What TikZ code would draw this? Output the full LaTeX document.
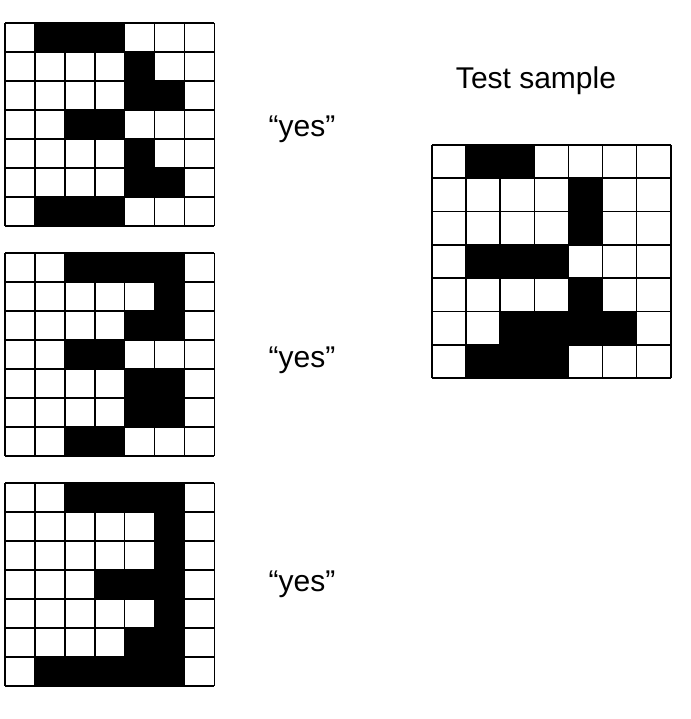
\documentclass[tikz,border=0pt]{standalone}
\usepackage{fontspec}
\setmainfont{Liberation Sans}
\tikzset{
  gridline/.style={draw=black, line width=1.6pt},
  cellfill/.style={fill=black},
  label/.style={font=\fontsize{30}{36}\selectfont, anchor=base, inner sep=0pt},
}
\newcommand\pixgrid[5]{%
  \foreach \row [count=\r from 0] in {#5}{%
    \foreach \v [count=\c from 0] in \row {%
      \ifnum\v=1 \fill[cellfill] ({#1+\c*#3},{#2+\r*#4}) rectangle ++(#3,#4);\fi
    }}%
  \foreach \k in {0,...,7}{%
    \draw[gridline] ({#1+\k*#3},#2) -- ++(0,{7*#4});
    \draw[gridline] (#1,{#2+\k*#4}) -- ++({7*#3},0);
  }%
}
\begin{document}
\begin{tikzpicture}[x=1pt,y=-1pt]
\useasboundingbox (0,0) rectangle (690,719);
\fill[white] (0,0) rectangle (690,719);
% training grids
\pixgrid{5}{23}{29.9}{29}{{0,1,1,1,0,0,0},{0,0,0,0,1,0,0},{0,0,0,0,1,1,0},{0,0,1,1,0,0,0},{0,0,0,0,1,0,0},{0,0,0,0,1,1,0},{0,1,1,1,0,0,0}}
\pixgrid{5}{253}{29.9}{29}{{0,0,1,1,1,1,0},{0,0,0,0,0,1,0},{0,0,0,0,1,1,0},{0,0,1,1,0,0,0},{0,0,0,0,1,1,0},{0,0,0,0,1,1,0},{0,0,1,1,0,0,0}}
\pixgrid{5}{483}{29.9}{29}{{0,0,1,1,1,1,0},{0,0,0,0,0,1,0},{0,0,0,0,0,1,0},{0,0,0,1,1,1,0},{0,0,0,0,0,1,0},{0,0,0,0,1,1,0},{0,1,1,1,1,1,0}}
% test grid
\pixgrid{432}{145}{34.1}{33.3}{{0,1,1,0,0,0,0},{0,0,0,0,1,0,0},{0,0,0,0,1,0,0},{0,1,1,1,0,0,0},{0,0,0,0,1,0,0},{0,0,1,1,1,1,0},{0,1,1,1,0,0,0}}
% labels
\node[label] (yes1) at (302,137) {“yes”};
\node[label] (yes2) at (302,367) {“yes”};
\node[label] (yes3) at (302,591) {“yes”};
\node[label] (test) at (536,89) {Test sample};
\end{tikzpicture}
\end{document}
